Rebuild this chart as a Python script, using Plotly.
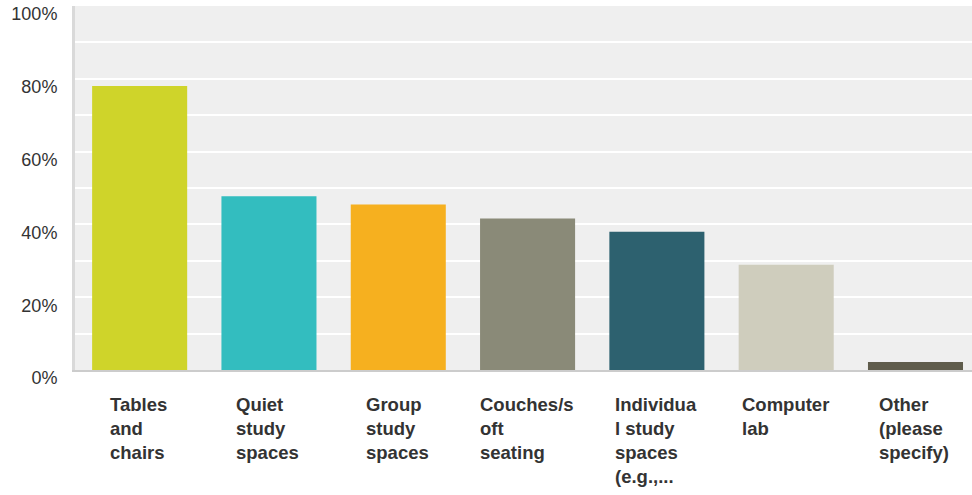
import plotly.graph_objects as go

categories = ["Tables<br>and<br>chairs", "Quiet<br>study<br>spaces", "Group<br>study<br>spaces",
              "Couches/s<br>oft<br>seating", "Individua<br>l study<br>spaces<br>(e.g.,...",
              "Computer<br>lab", "Other<br>(please<br>specify)"]
values = [78.0, 47.7, 45.5, 41.6, 38.0, 28.9, 2.2]
colors = ["#cfd42a", "#33bdbf", "#f6b01f", "#8a8a78", "#2d616f", "#cfcdbd", "#5f5c4c"]
ytick_vals = [0, 20, 40, 60, 80, 100]
ytick_text = ["0%", "20%", "40%", "60%", "80%", "100%"]

xs = list(range(len(values)))

fig = go.Figure(go.Bar(
    x=xs, y=values, marker=dict(color=colors, line=dict(width=0)),
    width=0.735, hoverinfo="skip"
))

# category labels: block centred under the bar, lines left-aligned
for i, lab in enumerate(categories):
    fig.add_annotation(
        x=i, y=0, xref="x", yref="paper", text="<b>" + lab + "</b>",
        xanchor="center", yanchor="top", align="left", showarrow=False,
        xshift=-1, yshift=-22,
        font=dict(family="Liberation Sans, Arial", size=18.5, color="#333333")
    )

fig.update_layout(
    width=972, height=495,
    margin=dict(l=75, r=0, t=6, b=125),
    paper_bgcolor="white", plot_bgcolor="#efefef",
    showlegend=False,
    font=dict(family="Liberation Sans, Arial", size=18, color="#333333"),
    xaxis=dict(range=[-0.5, 6.437], showticklabels=False, showgrid=False, automargin=False,
               zeroline=False, showline=True, linecolor="#cccccc", linewidth=2),
    yaxis=dict(range=[0, 100], tickvals=ytick_vals, ticktext=ytick_text, automargin=False,
               showgrid=True, gridcolor="white", gridwidth=2,
               minor=dict(dtick=10, showgrid=True, gridcolor="white", gridwidth=2),
               zeroline=False, showline=True, linecolor="#d9d9d9", linewidth=3,
               ticks="", ticklabelstandoff=11, ticklabelshift=8,
               ticklabeloverflow="allow"),
)

# page body has a default 8px margin; drop it so the figure fills the window
fig.write_html("out.html", config={"displayModeBar": False},
               post_script="document.body.style.margin='0';")
